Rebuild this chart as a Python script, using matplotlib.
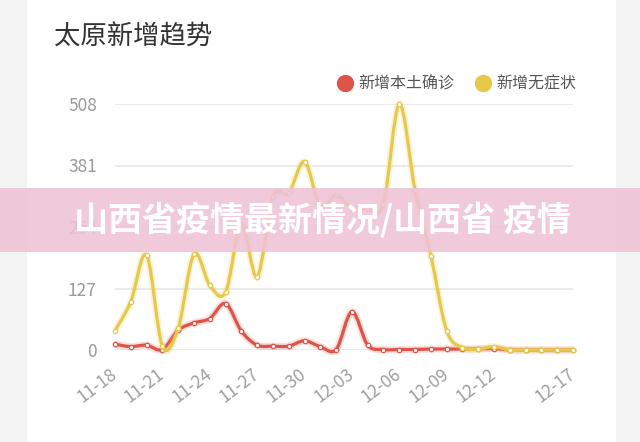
import matplotlib
matplotlib.use("Agg")
import matplotlib.pyplot as plt
from matplotlib.path import Path
from matplotlib.patches import PathPatch, Rectangle
from matplotlib.lines import Line2D
import pandas as pd

plt.rcParams['font.family'] = ['Noto Sans CJK SC', 'DejaVu Sans']

# 日期 11-18 ~ 12-17
dates = list(pd.date_range('2021-11-18', periods=30).strftime('%m-%d'))
tick_idx = [0, 3, 6, 9, 12, 15, 18, 21, 24, 29]
yticks = [0, 127, 254, 381, 508]

bentu = [12, 7, 10, 1, 41, 56, 65, 96, 39, 10, 8, 8, 19, 7, 1,
         79, 10, 1, 1, 1, 2, 2, 2, 2, 3, 0, 0, 0, 0, 0]
wuzheng = [40, 100, 196, 8, 45, 198, 134, 119, 260, 151, 316, 324, 389, 296, 320,
           292, 292, 302, 508, 330, 195, 40, 5, 2, 7, 0, 0, 0, 0, 0]

red = '#DE5449'
yellow = '#E6C84A'


def smooth_path(xs, ys):
    # catmull-rom -> bezier, 跟echarts的smooth差不多
    n = len(xs)
    verts = [(xs[0], ys[0])]
    codes = [Path.MOVETO]
    for i in range(n - 1):
        a = max(i - 1, 0)
        d = min(i + 2, n - 1)
        c1 = (xs[i] + (xs[i + 1] - xs[a]) / 6, ys[i] + (ys[i + 1] - ys[a]) / 6)
        c2 = (xs[i + 1] - (xs[d] - xs[i]) / 6, ys[i + 1] - (ys[d] - ys[i]) / 6)
        verts += [c1, c2, (xs[i + 1], ys[i + 1])]
        codes += [Path.CURVE4] * 3
    return Path(verts, codes)


fig = plt.figure(figsize=(6.4, 4.42), dpi=100)
fig.patch.set_facecolor('#f3f3f3')
fig.add_artist(Rectangle((27 / 640, 0), (616 - 27) / 640, 1, transform=fig.transFigure,
                         facecolor='white', edgecolor='none', zorder=0))

ax = fig.add_axes([115 / 640, 1 - 350 / 442, (573 - 115) / 640, (350 - 104) / 442])
ax.set_facecolor('none')
x = list(range(len(dates)))

for vals, c, z in [(bentu, red, 3), (wuzheng, yellow, 4)]:
    p = smooth_path(x, vals)
    ax.add_patch(PathPatch(p, fill=False, edgecolor=c, lw=5, alpha=0.2, clip_on=False, zorder=z))
    ax.add_patch(PathPatch(p, fill=False, edgecolor=c, lw=2.3, clip_on=False, zorder=z,
                           capstyle='round', joinstyle='round'))
    ax.plot(x, vals, 'o', ms=3.2, mfc='white', mec=c, mew=0.9, clip_on=False, zorder=z + 0.5)

ax.set_xlim(0, 29)
ax.set_ylim(0, 508)
ax.set_yticks(yticks)
ax.set_xticks(tick_idx)
ax.set_xticklabels([dates[i] for i in tick_idx], rotation=37, ha='right', va='center',
                   rotation_mode='anchor')
ax.grid(axis='y', color='#e5e5e5', lw=1.1)
ax.set_axisbelow(True)
for s in ax.spines.values():
    s.set_visible(False)
ax.tick_params(axis='y', length=0, pad=13, labelsize=12.5, labelcolor='#9a9a9a')
ax.tick_params(axis='x', length=0, pad=16, labelsize=12.5, labelcolor='#9f9f9f')

fig.text(54 / 640, 1 - 37 / 442, '太原新增趋势', fontsize=19, color='#333333', va='center')

handles = [Line2D([], [], ls='none', marker='o', ms=11.5, color=red),
           Line2D([], [], ls='none', marker='o', ms=11.5, color=yellow)]
fig.legend(handles, ['新增本土确诊', '新增无症状'], loc='center right',
           bbox_to_anchor=(591 / 640, 1 - 84 / 442), ncol=2, frameon=False,
           fontsize=11.5, labelcolor='#555555', handlelength=0.8, handletextpad=0.45,
           columnspacing=1.4)

# 粉色横幅
fig.add_artist(Rectangle((0, 1 - 252 / 442), 1, 64 / 442, transform=fig.transFigure,
                         facecolor='#efc2d6', edgecolor='none', alpha=0.88, zorder=10))
fig.text(322 / 640, 1 - 220 / 442, '山西省疫情最新情况/山西省 疫情', fontsize=24.5,
         color='white', fontweight='black', ha='center', va='center', zorder=11)

fig.savefig('out.png', dpi=100, facecolor=fig.get_facecolor())
